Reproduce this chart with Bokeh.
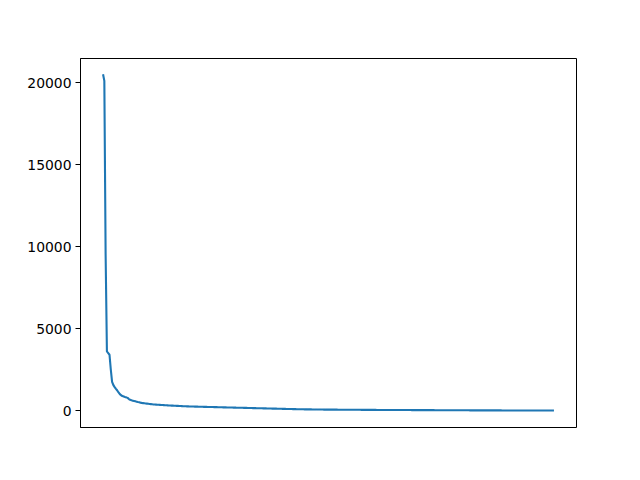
import numpy as np
from bokeh.plotting import figure
from bokeh.models import Range1d, FixedTicker
from bokeh.embed import file_html
from bokeh.resources import INLINE

# Rank-ordered values (index = rank)
values = [
    20500, 20100, 9500, 3600, 3500, 3400, 2500, 1750, 1550, 1430,
    1320, 1220, 1100, 1000, 930, 880, 850, 820, 800, 770,
    700, 650, 620, 600, 580, 560, 540, 520, 505, 480,
    460, 450, 440, 430, 420, 410, 400, 390, 380, 370,
    365, 360, 355, 350, 345, 340, 335, 330, 325, 320,
    315, 310, 305, 300, 296, 292, 288, 284, 280, 276,
    272, 268, 264, 260, 257, 254, 251, 248, 245, 242,
    240, 238, 236, 234, 232, 230, 228, 226, 224, 222,
    220, 218, 216, 214, 212, 210, 208, 206, 204, 202,
    200, 198, 196, 194, 192, 190, 188, 186, 184, 182,
    180, 178, 176, 174, 172, 170, 168, 166, 164, 162,
    160, 158, 156, 154, 152, 150, 148, 146, 144, 142,
    140, 138, 136, 134, 132, 130, 128, 126, 124, 122,
    120, 118, 116, 114, 112, 110, 108, 106, 104, 102,
    100, 98, 96, 94, 92, 90, 88, 86, 84, 82,
    80, 78, 76, 75, 74, 73, 72, 71, 70, 69,
    68, 67, 66, 65, 64, 63, 62, 61, 60, 59,
    58, 57, 56, 55, 54, 54, 53, 53, 52, 52,
    51, 51, 50, 50, 49, 49, 48, 48, 47, 47,
    46, 46, 45, 45, 44, 44, 43, 43, 42, 42,
    41, 41, 40, 40, 39, 39, 38, 38, 37, 37,
    36, 36, 35, 35, 35, 34, 34, 34, 33, 33,
    33, 32, 32, 32, 31, 31, 31, 30, 30, 30,
    29, 29, 29, 28, 28, 28, 27, 27, 27, 26,
    26, 26, 25, 25, 25, 24, 24, 24, 23, 23,
    23, 22, 22, 22, 21, 21, 21, 20, 20, 20,
    19, 19, 19, 18, 18, 18, 17, 17, 17, 16,
    16, 16, 15, 15, 15, 14, 14, 14, 13, 13,
    13, 12, 12, 12, 11, 11, 11, 10, 10, 10,
    10, 9, 9, 9, 9, 8, 8, 8, 8, 7,
    7, 7, 7, 7, 6, 6, 6, 6, 6, 5,
    5, 5, 5, 5, 5, 4, 4, 4, 4, 4,
    4, 4, 3, 3, 3, 3, 3, 3, 3, 3,
    2, 2, 2, 2, 2, 2, 2, 2, 2, 2,
    1, 1, 1, 1, 1, 1, 1, 1, 1, 1,
]
y_ticks = [0, 5000, 10000, 15000, 20000]

x = list(range(len(values)))
n = len(values) - 1
xpad = 0.05 * n
ymin, ymax = min(values), max(values)
ypad = 0.05 * (ymax - ymin)

p = figure(
    frame_width=496, frame_height=369,
    min_border_left=80, min_border_right=64,
    min_border_top=58, min_border_bottom=53,
    output_backend="svg", toolbar_location=None,
    x_range=Range1d(-xpad, n + xpad),
    y_range=Range1d(ymin - ypad - 12, ymax + ypad - 60),
    background_fill_color="white", border_fill_color="white",
)
p.line(x, values, line_color="#1f77b4", line_width=2.1)

p.xaxis.visible = False
p.grid.visible = False
p.outline_line_color = "black"
p.outline_line_width = 1
p.outline_line_alpha = 1

ya = p.yaxis[0]
ya.ticker = FixedTicker(ticks=y_ticks)
ya.minor_tick_line_color = None
ya.major_tick_out = 5
ya.major_tick_in = 0
ya.major_tick_line_color = "black"
ya.axis_line_color = "black"
ya.major_label_standoff = 4
ya.major_label_text_font = "DejaVu Sans"
ya.major_label_text_font_size = "13.9px"
ya.major_label_text_color = "black"

open("out.html", "w").write(file_html(p, INLINE))
